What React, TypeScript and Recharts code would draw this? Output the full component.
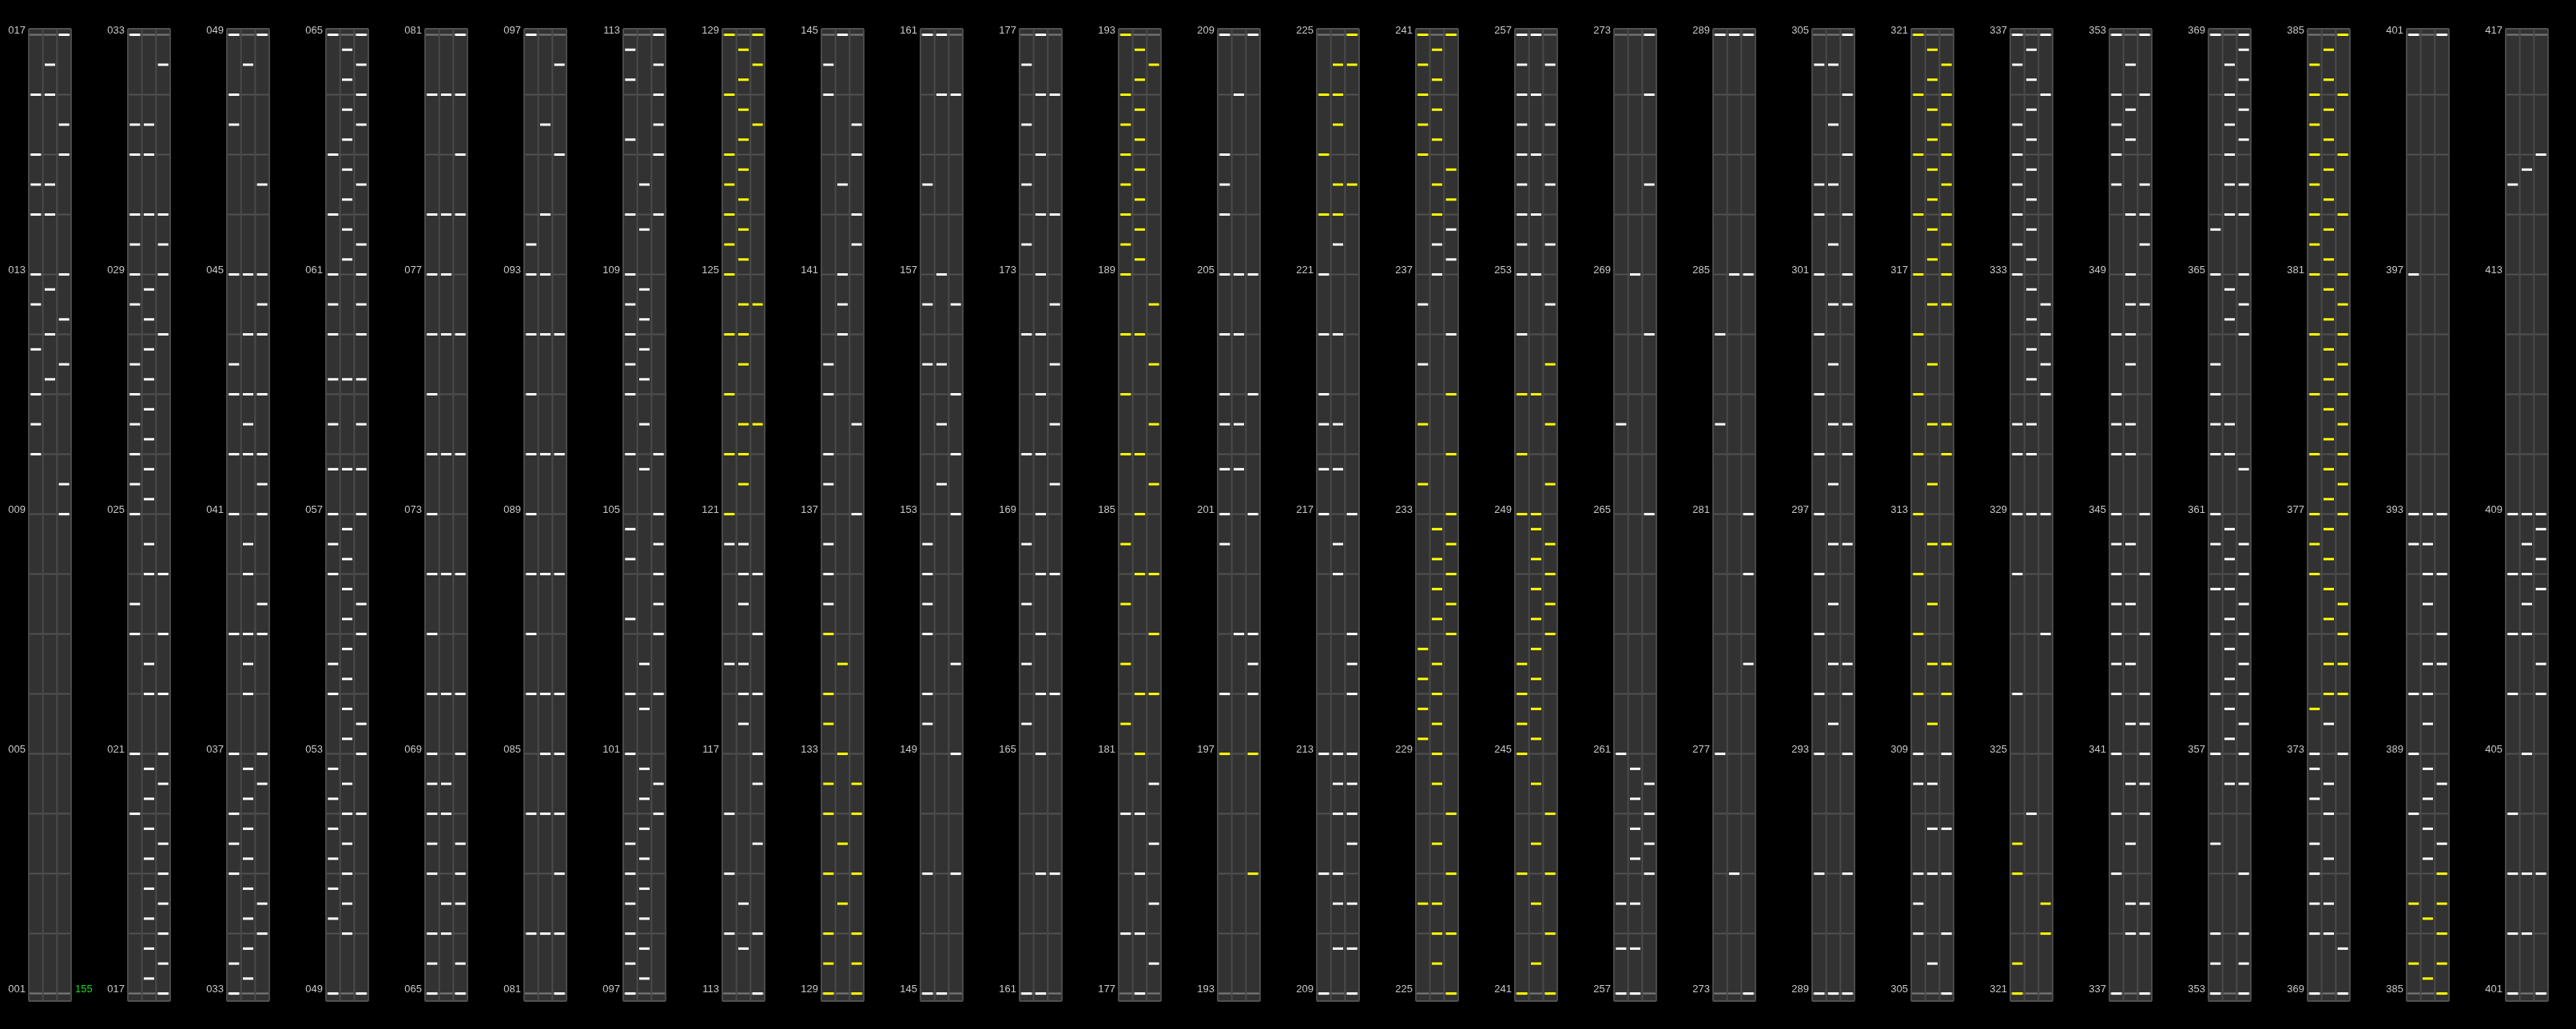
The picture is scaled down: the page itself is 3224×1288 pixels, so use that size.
import { ScatterChart, Scatter, XAxis, YAxis, CartesianGrid, ReferenceLine, ReferenceDot } from "recharts"

document.body.style.margin = "0"
document.body.style.background = "#000"

const COLUMN_WIDTH = 124
const CHART_HEIGHT = 1288
const MEASURES_PER_COLUMN = 16
const BEATS_PER_MEASURE = 4
const FONT = "'Liberation Sans', Arial, sans-serif"

// measure lines inside one column, and the ones that carry a label
const MEASURE_LINES = [0, 1, 2, 3, 4, 5, 6, 7, 8, 9, 10, 11, 12, 13, 14, 15, 16]
const LABELED_MEASURES = [0, 4, 8, 12, 16]
const LANE_EDGES = [0, 1, 2, 3]

// tempo markers: column, beat in column, text
const BPM_MARKS = [{ column: 0, beat: 0, value: "155" }]

// notes per column -> per lane -> beat from the bottom of the column (0..64)
const WHITE_NOTES: number[][][] = [
  // 001
  [[60, 56, 54, 52, 48, 46, 43, 40, 38, 36], [62, 60, 54, 52, 47, 44, 41], [64, 58, 56, 48, 45, 42, 34, 32]],
  // 017
  [
    [64, 58, 56, 52, 50, 48, 46, 42, 40, 38, 36, 34, 32, 26, 24, 16, 12],
    [58, 56, 52, 47, 45, 43, 41, 39, 37, 35, 33, 30, 28, 22, 20, 15, 13, 11, 9, 7, 5, 3, 1],
    [62, 52, 50, 48, 44, 28, 24, 20, 16, 14, 10, 8, 6, 4, 2, 0],
  ],
  // 033
  [
    [64, 60, 58, 48, 42, 40, 36, 32, 24, 16, 12, 10, 8, 2, 0],
    [62, 48, 44, 40, 38, 36, 30, 28, 24, 22, 20, 15, 13, 11, 9, 7, 5, 3, 1],
    [64, 54, 48, 46, 44, 40, 36, 34, 32, 26, 24, 16, 14, 6, 4],
  ],
  // 049
  [
    [64, 56, 52, 48, 46, 44, 41, 38, 35, 32, 30, 28, 22, 20, 15, 13, 11, 9, 7, 5, 0],
    [63, 61, 59, 57, 55, 53, 51, 49, 41, 35, 31, 29, 27, 25, 23, 21, 19, 17, 14, 12, 10, 8, 6, 4],
    [64, 62, 60, 58, 54, 50, 48, 46, 44, 41, 38, 35, 32, 26, 24, 18, 16, 12, 0],
  ],
  // 065
  [
    [60, 52, 48, 44, 40, 36, 32, 28, 24, 20, 16, 14, 12, 10, 8, 4, 2, 0],
    [60, 52, 48, 44, 36, 28, 20, 14, 12, 6, 4],
    [64, 60, 56, 52, 44, 36, 28, 20, 16, 10, 8, 6, 2, 0],
  ],
  // 081
  [[64, 50, 48, 44, 40, 36, 32, 28, 24, 20, 12, 4], [58, 52, 48, 44, 36, 28, 20, 16, 12, 4], [62, 56, 44, 36, 28, 20, 16, 12, 8, 4, 0]],
  // 097
  [
    [63, 61, 57, 52, 48, 46, 44, 42, 40, 36, 31, 29, 25, 20, 16, 10, 8, 6, 4, 2, 0],
    [54, 51, 47, 45, 43, 41, 38, 35, 22, 19, 15, 13, 11, 9, 7, 5, 3, 1],
    [64, 62, 60, 58, 56, 52, 36, 32, 30, 28, 26, 24, 20, 14, 12],
  ],
  // 113
  [[30, 22, 12, 8, 4], [30, 28, 26, 22, 20, 18, 6, 3], [28, 24, 20, 16, 14, 10, 4, 0]],
  // 129
  [[62, 60, 42, 40, 36, 34, 30, 28, 26], [64, 54, 48, 46, 44], [58, 56, 52, 50, 38, 32]],
  // 145
  [[64, 54, 46, 42, 30, 28, 26, 24, 20, 18, 8, 0], [64, 60, 48, 42, 38, 34, 0], [60, 46, 40, 36, 32, 22, 16, 8]],
  // 161
  [
    [62, 58, 54, 50, 44, 36, 30, 26, 22, 18, 0],
    [64, 60, 56, 52, 48, 44, 40, 36, 32, 28, 24, 20, 16, 8, 0],
    [60, 52, 46, 42, 38, 34, 28, 20, 8],
  ],
  // 177
  [[12, 4], [12, 8, 4, 0], [14, 10, 6, 2]],
  // 193
  [[64, 56, 54, 52, 48, 44, 40, 38, 35, 32, 30, 20], [60, 48, 44, 38, 35, 24], [64, 48, 40, 32, 24, 22, 20]],
  // 209
  [
    [48, 44, 40, 38, 35, 32, 16, 8, 0],
    [50, 44, 38, 35, 30, 28, 16, 14, 12, 8, 6, 3],
    [32, 24, 22, 20, 16, 14, 12, 10, 6, 3, 0],
  ],
  // 225
  [[46, 42], [50, 48], [51, 49, 44]],
  // 241
  [[64, 62, 60, 58, 56, 54, 52, 50, 48, 44], [64, 60, 56, 52, 48], [62, 58, 54, 50, 46]],
  // 257
  [[38, 16, 6, 3, 0], [48, 15, 13, 11, 9, 6, 3, 0], [64, 60, 54, 44, 32, 14, 12, 10, 8]],
  // 273
  [[64, 44, 38, 16], [64, 48, 8], [64, 48, 32, 28, 22, 0]],
  // 289
  [
    [62, 54, 52, 48, 44, 40, 36, 32, 28, 24, 20, 16, 8, 0],
    [62, 58, 54, 50, 46, 42, 38, 34, 30, 26, 22, 18, 0],
    [64, 60, 56, 52, 48, 46, 38, 36, 30, 22, 20, 16, 8, 0],
  ],
  // 305
  [[16, 14, 8, 6, 4], [14, 11, 8, 2], [16, 11, 8, 4, 0]],
  // 321
  [
    [64, 62, 58, 56, 54, 52, 50, 48, 38, 36, 32, 28, 20],
    [63, 61, 59, 57, 55, 53, 51, 49, 47, 45, 43, 41, 38, 36, 32, 12],
    [64, 60, 46, 44, 42, 40, 32, 24],
  ],
  // 337
  [
    [64, 60, 58, 56, 54, 44, 40, 38, 36, 32, 30, 28, 26, 24, 22, 20, 16, 12, 8, 0],
    [62, 59, 57, 52, 48, 46, 44, 42, 38, 36, 30, 26, 22, 18, 14, 10, 6, 4],
    [64, 60, 54, 52, 50, 46, 32, 28, 24, 20, 18, 16, 14, 12, 6, 4, 0],
  ],
  // 353
  [
    [64, 51, 48, 42, 40, 38, 36, 32, 30, 27, 24, 20, 16, 10, 4, 2, 0],
    [62, 60, 58, 56, 54, 52, 47, 45, 38, 36, 31, 29, 27, 25, 23, 21, 19, 17, 14],
    [64, 63, 61, 59, 57, 54, 52, 48, 46, 44, 35, 30, 28, 26, 24, 22, 20, 18, 16, 14, 8, 4, 2, 0],
  ],
  // 369
  [[16, 15, 13, 10, 8, 6, 4, 0], [18, 14, 12, 9, 6, 4], [16, 3, 0]],
  // 385
  [[64, 48, 32, 30, 20, 16, 12], [32, 30, 28, 26, 22, 20, 18, 15, 13, 11, 9], [64, 32, 28, 24, 22, 14, 10]],
  // 401
  [[54, 32, 28, 24, 20, 12, 8, 4, 0], [55, 32, 30, 28, 26, 24, 16, 8, 4], [56, 32, 31, 29, 27, 22, 20, 8, 0]],
]

const YELLOW_NOTES: number[][][] = [
  [[], [], []],
  [[], [], []],
  [[], [], []],
  [[], [], []],
  [[], [], []],
  [[], [], []],
  [[], [], []],
  // 113
  [
    [64, 60, 56, 54, 52, 50, 48, 44, 40, 36, 32],
    [63, 61, 59, 57, 55, 53, 51, 49, 46, 44, 42, 38, 36, 34],
    [64, 62, 58, 46, 38],
  ],
  // 129
  [[24, 20, 18, 14, 12, 8, 4, 2, 0], [22, 16, 10, 6], [14, 12, 8, 4, 2, 0]],
  [[], [], []],
  [[], [], []],
  // 177
  [
    [64, 60, 58, 56, 54, 52, 50, 48, 44, 40, 36, 30, 26, 22, 18],
    [63, 61, 59, 57, 55, 53, 51, 49, 44, 36, 32, 28, 20, 16],
    [62, 46, 42, 38, 34, 28, 24, 20],
  ],
  // 193
  [[16], [], [16, 8]],
  // 209
  [[60, 56, 52], [62, 60, 58, 54, 52], [64, 62, 54]],
  // 225
  [
    [64, 62, 60, 58, 56, 38, 34, 23, 21, 19, 17, 6],
    [63, 61, 59, 57, 54, 52, 31, 29, 27, 25, 22, 20, 18, 16, 14, 10, 6, 4, 2],
    [64, 55, 53, 40, 36, 32, 30, 28, 26, 24, 12, 8, 4, 0],
  ],
  // 241
  [
    [40, 36, 32, 22, 20, 18, 16, 8, 0],
    [40, 32, 31, 29, 27, 25, 23, 21, 19, 17, 14, 10, 6, 2],
    [42, 38, 34, 30, 28, 26, 24, 12, 8, 4, 0],
  ],
  [[], [], []],
  [[], [], []],
  [[], [], []],
  // 305
  [
    [64, 60, 56, 52, 48, 44, 40, 36, 32, 28, 24, 20],
    [63, 61, 59, 57, 55, 53, 51, 49, 46, 42, 38, 34, 30, 26, 22, 18],
    [62, 60, 58, 56, 54, 52, 50, 48, 46, 38, 36, 30, 22, 20],
  ],
  // 321
  [[10, 8, 2, 0], [], [6, 4]],
  [[], [], []],
  [[], [], []],
  // 369
  [
    [62, 60, 58, 56, 54, 52, 50, 48, 44, 40, 36, 32, 30, 28, 19],
    [63, 61, 59, 57, 55, 53, 51, 49, 47, 45, 43, 41, 39, 37, 35, 33, 31, 29, 27, 25, 22, 20],
    [64, 60, 56, 52, 48, 46, 44, 42, 40, 38, 36, 34, 32, 26, 24, 22, 20],
  ],
  // 385
  [[6, 2], [5, 1], [8, 6, 4, 2, 0]],
  [[], [], []],
]

const toPoints = (lanes: number[][]) =>
  lanes.flatMap((beats, lane) => beats.map((beat) => ({ lane: lane + 0.5, beat })))

const noteShape = (color: string) => (props: any) => (
  <rect x={props.cx - 6.5} y={props.cy - 1.5} width={13} height={3} fill={color} />
)

const ColumnChart = ({ index }: { index: number }) => {
  const firstMeasure = index * MEASURES_PER_COLUMN + 1
  const white = toPoints(WHITE_NOTES[index])
  const yellow = toPoints(YELLOW_NOTES[index])
  const bpm = BPM_MARKS.filter((m) => m.column === index)
  const lastBeat = MEASURES_PER_COLUMN * BEATS_PER_MEASURE

  return (
    <ScatterChart width={COLUMN_WIDTH} height={CHART_HEIGHT} margin={{ top: 36, right: 35, bottom: 35, left: 0 }}>
      <CartesianGrid vertical={false} fill="#333333" stroke="#525252" strokeWidth={2} />
      <XAxis type="number" dataKey="lane" domain={[0, 3]} allowDataOverflow hide />
      <YAxis
        type="number"
        dataKey="beat"
        domain={[-0.5, 64.4]}
        allowDataOverflow
        ticks={MEASURE_LINES.map((m) => m * BEATS_PER_MEASURE)}
        interval={0}
        width={36}
        tickSize={0}
        tickMargin={4}
        axisLine={false}
        tickLine={false}
        tick={{ fill: "#c8c8c8", fontSize: 13, fontFamily: FONT, dy: -6 }}
        tickFormatter={(beat: number) => {
          const m = beat / BEATS_PER_MEASURE
          return LABELED_MEASURES.includes(m) ? String(firstMeasure + m).padStart(3, "0") : ""
        }}
      />
      <ReferenceLine y={0} stroke="#777777" strokeWidth={2} />
      <ReferenceLine y={lastBeat} stroke="#777777" strokeWidth={2} />
      {LANE_EDGES.map((x) => (
        <ReferenceLine key={`lane-${x}`} x={x} stroke="#4b4b4b" strokeWidth={2} />
      ))}
      <Scatter data={white} fill="#ffffff" shape={noteShape("#ffffff")} isAnimationActive={false} />
      <Scatter data={yellow} fill="#ffff00" shape={noteShape("#ffff00")} isAnimationActive={false} />
      {bpm.map((m) => (
        <ReferenceDot
          key={`bpm-${m.beat}`}
          x={3}
          y={m.beat}
          r={0}
          fill="none"
          stroke="none"
          label={{ value: m.value, position: "right", fill: "#1fd81f", fontSize: 13, fontFamily: FONT, dy: -6 }}
        />
      ))}
    </ScatterChart>
  )
}

const App = () => (
  // slight opacity keeps the small labels on grayscale antialiasing (no colour fringes)
  <div style={{ display: "flex", width: 3224, height: 1288, background: "#000", opacity: 0.999, willChange: "transform" }}>
    {WHITE_NOTES.map((_, i) => (
      <ColumnChart key={i} index={i} />
    ))}
  </div>
)

export default App
